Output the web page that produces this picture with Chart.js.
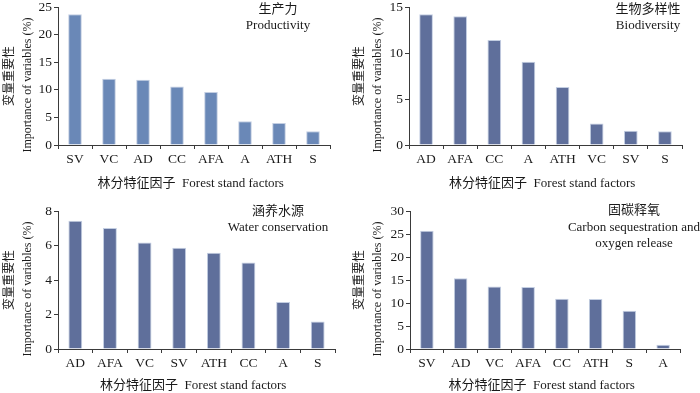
<!DOCTYPE html>
<html>
<head>
<meta charset="utf-8">
<script src="https://cdn.jsdelivr.net/npm/chart.js@4"></script>
<style>
body { margin: 0; background: #fff; }
#wrap { position: relative; width: 700px; height: 393px; }
.panel { position: absolute; width: 350px; }
</style>
</head>
<body>
<div id="wrap">
  <div class="panel" style="left:0;top:0;height:196px"><canvas id="c1" width="350" height="196"></canvas></div>
  <div class="panel" style="left:350px;top:0;height:196px"><canvas id="c2" width="350" height="196"></canvas></div>
  <div class="panel" style="left:0;top:196px;height:197px"><canvas id="c3" width="350" height="197"></canvas></div>
  <div class="panel" style="left:350px;top:196px;height:197px"><canvas id="c4" width="350" height="197"></canvas></div>
</div>
<script>
// data
const prodLabels = ['SV', 'VC', 'AD', 'CC', 'AFA', 'A', 'ATH', 'S'];
const prodValues = [23.7, 12.0, 11.8, 10.6, 9.6, 4.3, 4.0, 2.5];

const bioLabels = ['AD', 'AFA', 'CC', 'A', 'ATH', 'VC', 'SV', 'S'];
const bioValues = [14.2, 14.0, 11.4, 9.05, 6.3, 2.35, 1.55, 1.5];

const waterLabels = ['AD', 'AFA', 'VC', 'SV', 'ATH', 'CC', 'A', 'S'];
const waterValues = [7.44, 7.02, 6.17, 5.87, 5.58, 5.02, 2.73, 1.6];

const carbonLabels = ['SV', 'AD', 'VC', 'AFA', 'CC', 'ATH', 'S', 'A'];
const carbonValues = [25.7, 15.4, 13.6, 13.5, 10.9, 10.85, 8.3, 0.95];

const yMax = [25, 15, 8, 30];
const yStep = [5, 5, 2, 5];

const panelTitles = [
    ['生产力', 'Productivity'],
    ['生物多样性', 'Biodiversity'],
    ['涵养水源', 'Water conservation'],
    ['固碳释氧', 'Carbon sequestration and', 'oxygen release']
];
// trailing spaces nudge the english line down a bit, like the original
const yTitle = ['变量重要性', 'Importance of variables (%)      '];
const xTitle = '林分特征因子  Forest stand factors  ';

const FONT = '"Liberation Serif", "Times New Roman", "Noto Sans CJK SC", serif';
const TEXT = '#1a1a1a';
const AXIS = '#3a3a3a';

// draws the two/three-line label in the upper right of each panel
const panelTitlePlugin = {
    id: 'panelTitle',
    afterDraw(chart, args, opts) {
        const ctx = chart.ctx;
        ctx.save();
        ctx.fillStyle = TEXT;
        ctx.textAlign = 'center';
        ctx.textBaseline = 'middle';
        ctx.font = '13px ' + FONT;
        opts.lines.forEach((line, i) => {
            ctx.fillText(line, opts.x, opts.y + i * opts.lineHeight);
        });
        ctx.restore();
    }
};

function makeChart(id, labels, values, idx, color, geo) {
    const ctx = document.getElementById(id).getContext('2d');
    return new Chart(ctx, {
        type: 'bar',
        data: {
            labels: labels,
            datasets: [{
                data: values,
                backgroundColor: color,
                borderColor: '#c3cee2',
                borderWidth: 1,
                borderSkipped: 'bottom',
                barPercentage: 0.4,
                categoryPercentage: 1.0
            }]
        },
        options: {
            responsive: false,
            animation: false,
            devicePixelRatio: 1,
            layout: {
                padding: { left: 0, top: geo.top, right: geo.right, bottom: 0 }
            },
            plugins: {
                legend: { display: false },
                tooltip: { enabled: false },
                panelTitle: { lines: panelTitles[idx], x: geo.tx, y: geo.ty, lineHeight: geo.tlh }
            },
            scales: {
                x: {
                    afterFit: s => { s.height = geo.xh; s.paddingLeft = 0; s.paddingRight = 0; },
                    grid: { drawOnChartArea: false, drawTicks: true, tickLength: 4, color: AXIS, offset: true },
                    border: { display: true, color: AXIS, width: 1 },
                    ticks: { color: TEXT, font: { family: FONT, size: 13.5 }, padding: 2, maxRotation: 0 },
                    title: {
                        display: true,
                        text: xTitle,
                        color: TEXT,
                        font: { family: FONT, size: 13, lineHeight: 1.2 },
                        padding: { top: 0, bottom: geo.xtp }
                    }
                },
                y: {
                    min: 0,
                    max: yMax[idx],
                    afterFit: s => { s.width = geo.yw; s.paddingTop = 0; s.paddingBottom = 0; },
                    grid: { drawOnChartArea: false, drawTicks: true, tickLength: 4, color: AXIS },
                    border: { display: true, color: AXIS, width: 1 },
                    ticks: { stepSize: yStep[idx], color: TEXT, font: { family: FONT, size: 13.5 }, padding: 2 },
                    title: {
                        display: true,
                        text: yTitle,
                        color: TEXT,
                        font: { family: FONT, size: 12, lineHeight: 1.5 },
                        padding: { top: 1, bottom: 0 }
                    }
                }
            }
        },
        plugins: [panelTitlePlugin]
    });
}

makeChart('c1', prodLabels, prodValues, 0, '#6a88b7',
    { top: 7, right: 20, yw: 58, xh: 51, xtp: 5, tx: 278, ty: 10, tlh: 15.5 });
makeChart('c2', bioLabels, bioValues, 1, '#5f6f9b',
    { top: 7, right: 18, yw: 59, xh: 51, xtp: 5, tx: 298, ty: 10, tlh: 15.5 });
makeChart('c3', waterLabels, waterValues, 2, '#5f6f9b',
    { top: 15, right: 15, yw: 58, xh: 44, xtp: 0, tx: 278, ty: 16, tlh: 16 });
makeChart('c4', carbonLabels, carbonValues, 3, '#5f6f9b',
    { top: 15, right: 20, yw: 60, xh: 44, xtp: 0, tx: 284, ty: 15, tlh: 16.5 });
</script>
</body>
</html>
